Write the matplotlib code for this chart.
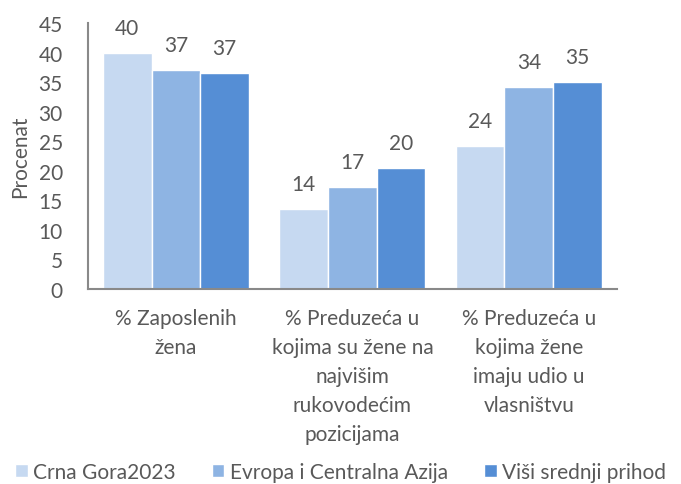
import numpy as np
import matplotlib
matplotlib.use("Agg")
import matplotlib.pyplot as plt

plt.rcParams['font.family'] = ['Lato', 'DejaVu Sans']

# donnees
categories = [
    "% Zaposlenih\nžena",
    "% Preduzeća u\nkojima su žene na\nnajvišim\nrukovodećim\npozicijama",
    "% Preduzeća u\nkojima žene\nimaju udio u\nvlasništvu",
]
series_names = ["Crna Gora2023", "Evropa i Centralna Azija", "Viši srednji prihod"]
crna_gora = [39.9, 13.5, 24.1]
evropa = [37.1, 17.3, 34.2]
visi_srednji = [36.6, 20.4, 35.0]
yticks = [0, 5, 10, 15, 20, 25, 30, 35, 40, 45]

colors = ["#C6D9F1", "#8EB4E3", "#558ED5"]
text_col = "#595959"
axis_col = "#898989"
fs = 15

fig = plt.figure(figsize=(6.81, 4.85), dpi=100)
ax = fig.add_axes([0.129, 0.403, 0.777, 0.547])

x = np.arange(len(categories))
w = 0.276
all_series = [crna_gora, evropa, visi_srednji]
for j, vals in enumerate(all_series):
    pos = x + (j - 1) * w
    bars = ax.bar(pos, vals, width=w, color=colors[j], edgecolor="white",
                  linewidth=1.0, label=series_names[j])
    for b, v in zip(bars, vals):
        ax.annotate(f"{v:.0f}", (b.get_x() + b.get_width() / 2, v),
                    xytext=(0, 18), textcoords="offset points",
                    ha="center", va="center", fontsize=fs, color=text_col)

ax.set_xlim(-0.5, len(categories) - 0.5)
ax.set_ylim(0, 45)
ax.set_yticks(yticks)
ax.set_xticks(x)
ax.set_xticklabels(categories, fontsize=fs, color=text_col, linespacing=1.56,
                   va="top")
ax.tick_params(axis="y", length=0, labelsize=fs, labelcolor=text_col, pad=18)
ax.tick_params(axis="x", length=0, pad=14)

for s in ["top", "right"]:
    ax.spines[s].set_visible(False)
for s in ["left", "bottom"]:
    ax.spines[s].set_color(axis_col)
    ax.spines[s].set_linewidth(1.5)

ax.set_ylabel("Procenat", fontsize=fs, color=text_col, labelpad=6)

leg = fig.legend(loc="lower center", bbox_to_anchor=(0.5, -0.035), ncol=3,
                 frameon=False, fontsize=fs, handlelength=0.6, handleheight=0.6,
                 handletextpad=0.25, columnspacing=1.75)
for t in leg.get_texts():
    t.set_color(text_col)

fig.savefig("out.png", dpi=100)
